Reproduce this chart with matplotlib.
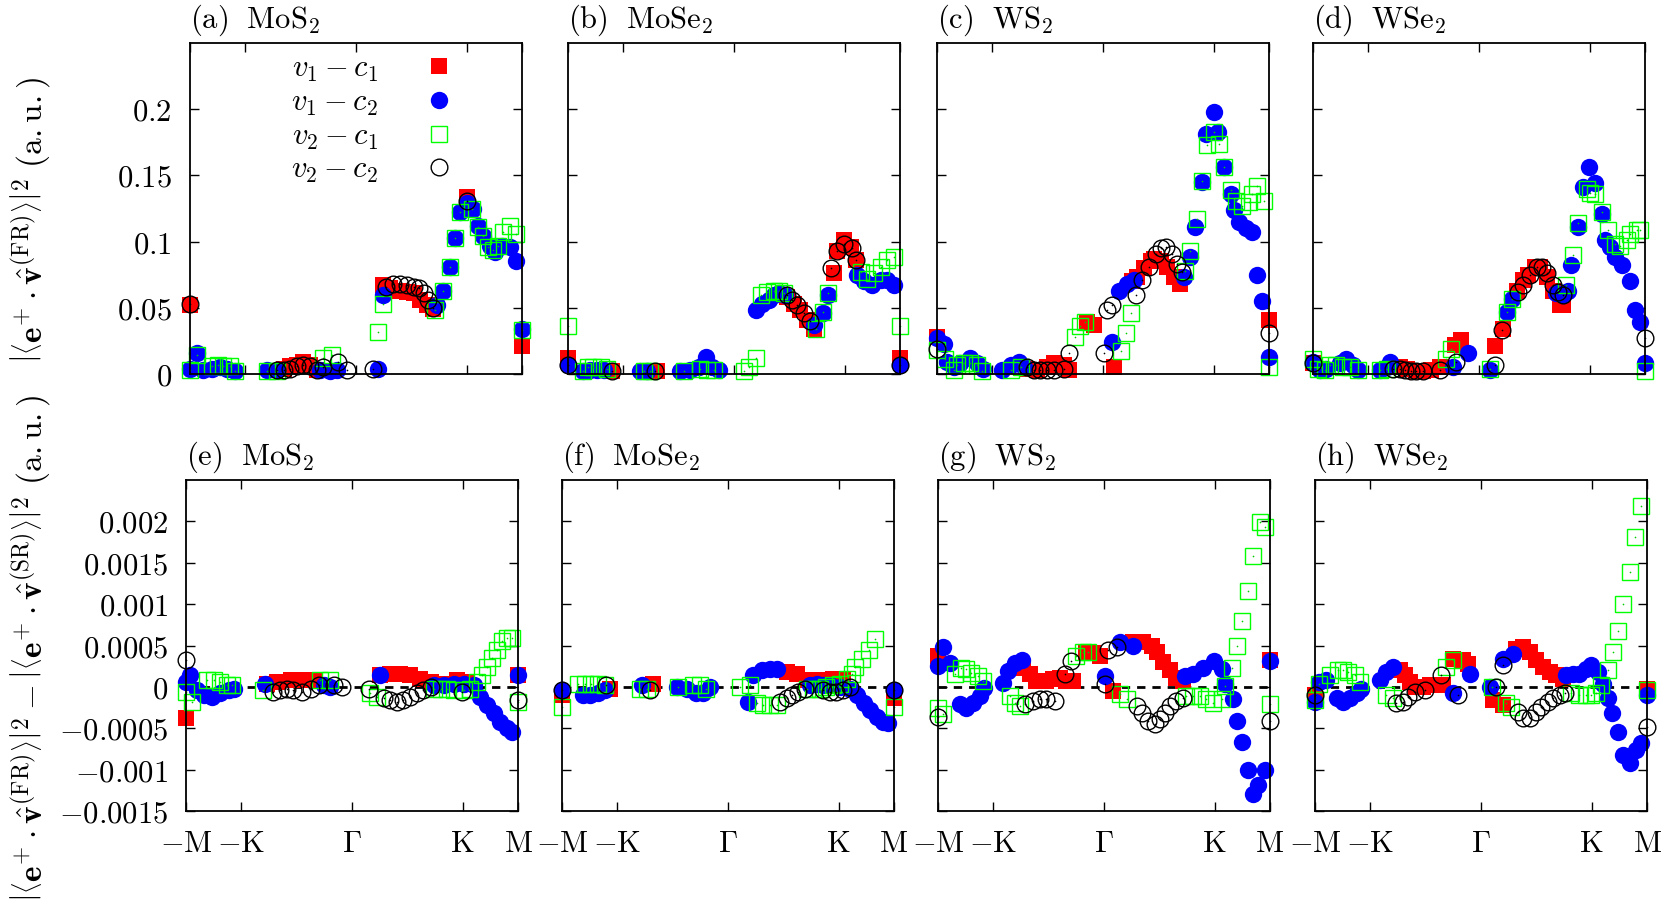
import numpy as np
import matplotlib
matplotlib.use('Agg')
import matplotlib.pyplot as plt

plt.rcParams['mathtext.fontset'] = 'cm'

# x along the k-path: -M=0, -K=1, Gamma=3, K=5, M=6
# ---- |<e+ . v(FR)>|^2 ----
fr_mos2_v1c1 = [(0.00, 0.052), (1.69, 0.004), (1.81, 0.006), (1.93, 0.007), (2.05, 0.009), (2.17, 0.007),
                (2.29, 0.003), (3.49, 0.067), (3.61, 0.065), (3.77, 0.063), (3.92, 0.062), (4.04, 0.061),
                (4.16, 0.056), (4.28, 0.052), (4.40, 0.049), (5.00, 0.134), (6.00, 0.021)]
fr_mos2_v1c2 = [(0.00, 0.004), (0.12, 0.016), (0.24, 0.003), (0.39, 0.004), (0.54, 0.005), (0.66, 0.004),
                (0.81, 0.002), (1.39, 0.003), (1.57, 0.003), (2.35, 0.003), (2.53, 0.002), (2.65, 0.003),
                (3.40, 0.0035), (3.49, 0.060), (4.46, 0.052), (4.58, 0.063), (4.70, 0.081), (4.79, 0.103),
                (4.88, 0.122), (5.00, 0.129), (5.12, 0.125), (5.21, 0.112), (5.30, 0.104), (5.42, 0.097),
                (5.51, 0.092), (5.63, 0.097), (5.78, 0.096), (5.90, 0.085), (6.00, 0.034)]
fr_mos2_v2c1 = [(0.00, 0.003), (0.12, 0.014), (0.39, 0.006), (0.51, 0.007), (0.60, 0.006), (0.72, 0.006),
                (0.81, 0.002), (1.39, 0.002), (1.57, 0.002), (2.41, 0.012), (2.56, 0.014), (3.40, 0.032),
                (3.49, 0.053), (4.43, 0.048), (4.58, 0.063), (4.70, 0.081), (4.79, 0.103), (4.88, 0.122),
                (5.09, 0.125), (5.21, 0.111), (5.30, 0.104), (5.39, 0.096), (5.48, 0.094), (5.57, 0.097),
                (5.66, 0.107), (5.78, 0.112), (5.90, 0.106), (6.00, 0.033)]
fr_mos2_v2c2 = [(0.00, 0.053), (1.57, 0.003), (1.69, 0.003), (1.81, 0.004), (1.93, 0.006), (2.05, 0.007),
                (2.17, 0.006), (2.29, 0.003), (2.41, 0.0055), (2.68, 0.009), (2.83, 0.003), (3.31, 0.004),
                (3.55, 0.066), (3.67, 0.068), (3.80, 0.068), (3.92, 0.067), (4.04, 0.066), (4.13, 0.065),
                (4.22, 0.061), (4.31, 0.056), (4.40, 0.050), (5.00, 0.131)]

fr_mose2_v1c1 = [(0.00, 0.012), (0.80, 0.002), (1.61, 0.002), (3.96, 0.058), (4.08, 0.053), (4.20, 0.048),
                 (4.32, 0.041), (4.45, 0.034), (4.80, 0.076), (4.87, 0.093), (4.99, 0.101), (5.11, 0.096),
                 (5.20, 0.086), (6.00, 0.012)]
fr_mose2_v1c2 = [(0.00, 0.007), (0.28, 0.002), (0.40, 0.003), (0.53, 0.003), (0.65, 0.003), (1.31, 0.002),
                 (1.43, 0.002), (2.03, 0.002), (2.21, 0.003), (2.36, 0.0055), (2.49, 0.013), (2.61, 0.0055),
                 (2.73, 0.003), (3.39, 0.048), (3.51, 0.053), (3.63, 0.056), (3.72, 0.060), (3.81, 0.061),
                 (3.93, 0.060), (4.45, 0.037), (4.60, 0.046), (4.69, 0.060), (5.23, 0.075), (5.35, 0.070),
                 (5.50, 0.067), (5.65, 0.071), (5.77, 0.071), (5.89, 0.067), (6.00, 0.007)]
fr_mose2_v2c1 = [(0.00, 0.036), (0.28, 0.002), (0.37, 0.0055), (0.46, 0.0055), (0.59, 0.0055), (0.71, 0.004),
                 (1.37, 0.002), (1.49, 0.002), (2.09, 0.002), (2.39, 0.004), (2.52, 0.003), (2.64, 0.003),
                 (3.18, 0.002), (3.27, 0.0055), (3.39, 0.012), (3.48, 0.060), (3.60, 0.062), (3.72, 0.063),
                 (3.81, 0.063), (3.90, 0.061), (4.48, 0.034), (4.60, 0.047), (4.69, 0.061), (5.29, 0.077),
                 (5.41, 0.072), (5.53, 0.076), (5.65, 0.081), (5.77, 0.086), (5.89, 0.088), (6.00, 0.036)]
fr_mose2_v2c2 = [(0.00, 0.007), (0.80, 0.002), (1.58, 0.002), (3.96, 0.060), (4.05, 0.056), (4.14, 0.052),
                 (4.26, 0.046), (4.38, 0.040), (4.75, 0.080), (4.87, 0.093), (4.99, 0.098), (5.14, 0.095),
                 (5.20, 0.086), (6.00, 0.007)]

fr_ws2_v1c1 = [(0.00, 0.028), (1.63, 0.004), (1.81, 0.003), (1.99, 0.0055), (2.11, 0.008), (2.29, 0.007),
               (2.38, 0.003), (2.71, 0.039), (2.83, 0.037), (3.20, 0.0055), (3.53, 0.070), (3.62, 0.073),
               (3.74, 0.080), (3.86, 0.085), (3.92, 0.087), (4.04, 0.085), (4.16, 0.081), (4.28, 0.073),
               (4.40, 0.068), (6.00, 0.041)]
fr_ws2_v1c2 = [(0.00, 0.027), (0.12, 0.023), (0.18, 0.009), (0.30, 0.0055), (0.42, 0.008), (0.60, 0.012),
               (0.72, 0.008), (0.84, 0.004), (1.18, 0.003), (1.33, 0.007), (1.48, 0.009), (1.57, 0.0055),
               (3.17, 0.024), (3.29, 0.063), (3.44, 0.068), (3.56, 0.071), (4.46, 0.073), (4.58, 0.088),
               (4.67, 0.111), (4.79, 0.145), (4.86, 0.181), (5.00, 0.198), (5.07, 0.183), (5.19, 0.156),
               (5.31, 0.136), (5.37, 0.124), (5.46, 0.115), (5.58, 0.110), (5.70, 0.107), (5.79, 0.075),
               (5.88, 0.055), (6.00, 0.013)]
fr_ws2_v2c1 = [(0.00, 0.018), (0.15, 0.011), (0.30, 0.003), (0.36, 0.0065), (0.48, 0.008), (0.60, 0.008),
               (0.72, 0.0065), (0.81, 0.002), (1.33, 0.003), (1.51, 0.0055), (2.50, 0.028), (2.59, 0.036),
               (2.68, 0.039), (3.32, 0.017), (3.41, 0.031), (3.50, 0.046), (4.49, 0.078), (4.58, 0.093),
               (4.70, 0.117), (4.79, 0.146), (4.88, 0.173), (5.00, 0.183), (5.09, 0.174), (5.19, 0.156),
               (5.31, 0.139), (5.40, 0.131), (5.52, 0.127), (5.64, 0.130), (5.70, 0.136), (5.79, 0.142),
               (5.91, 0.131), (6.00, 0.0055)]
fr_ws2_v2c2 = [(0.00, 0.019), (1.63, 0.0055), (1.75, 0.003), (1.87, 0.003), (1.99, 0.003), (2.11, 0.003),
               (2.29, 0.004), (2.38, 0.016), (3.02, 0.016), (3.08, 0.048), (3.17, 0.052), (3.59, 0.060),
               (3.71, 0.071), (3.83, 0.081), (3.95, 0.091), (4.04, 0.095), (4.13, 0.096), (4.25, 0.091),
               (4.34, 0.083), (4.43, 0.077), (6.00, 0.031)]

fr_wse2_v1c1 = [(0.00, 0.008), (1.57, 0.0055), (1.69, 0.004), (1.87, 0.002), (1.99, 0.002), (2.14, 0.003),
                (2.29, 0.0055), (2.56, 0.022), (2.68, 0.026), (3.29, 0.021), (3.44, 0.034), (3.68, 0.063),
                (3.80, 0.071), (3.89, 0.075), (4.01, 0.081), (4.10, 0.081), (4.22, 0.073), (4.34, 0.063),
                (4.46, 0.052), (4.52, 0.052)]
fr_wse2_v1c2 = [(0.00, 0.009), (0.12, 0.003), (0.24, 0.004), (0.48, 0.008), (0.60, 0.011), (0.72, 0.007),
                (0.81, 0.003), (1.21, 0.003), (1.33, 0.0055), (1.39, 0.009), (2.53, 0.0055), (2.80, 0.016),
                (3.20, 0.003), (3.50, 0.047), (3.59, 0.057), (4.40, 0.061), (4.52, 0.060), (4.61, 0.063),
                (4.67, 0.082), (4.79, 0.111), (4.88, 0.141), (4.99, 0.156), (5.09, 0.144), (5.22, 0.121),
                (5.28, 0.101), (5.37, 0.096), (5.46, 0.088), (5.58, 0.082), (5.73, 0.070), (5.82, 0.048),
                (5.91, 0.039), (6.00, 0.008)]
fr_wse2_v2c1 = [(0.00, 0.011), (0.09, 0.004), (0.21, 0.003), (0.30, 0.0065), (0.42, 0.0065), (0.54, 0.0055),
                (0.66, 0.0055), (0.81, 0.003), (1.21, 0.003), (1.33, 0.004), (2.41, 0.011), (2.50, 0.019),
                (3.20, 0.004), (3.50, 0.047), (3.59, 0.057), (4.58, 0.067), (4.70, 0.090), (4.79, 0.114),
                (4.95, 0.140), (5.01, 0.137), (5.10, 0.136), (5.22, 0.122), (5.34, 0.109), (5.46, 0.098),
                (5.55, 0.097), (5.67, 0.101), (5.73, 0.106), (5.85, 0.109), (5.91, 0.109), (6.00, 0.002)]
fr_wse2_v2c2 = [(0.00, 0.008), (1.45, 0.004), (1.57, 0.004), (1.66, 0.003), (1.78, 0.002), (1.87, 0.002),
                (1.99, 0.002), (2.29, 0.003), (2.59, 0.009), (3.29, 0.007), (3.41, 0.033), (3.71, 0.062),
                (3.80, 0.067), (3.92, 0.075), (4.04, 0.081), (4.13, 0.081), (4.22, 0.076), (4.34, 0.067),
                (4.43, 0.062), (4.52, 0.060), (6.00, 0.027)]

# ---- |<e+ . v(FR)>|^2 - |<e+ . v(SR)>|^2 ----
df_mos2_v1c1 = [(0.00, -0.00038), (1.46, 0.00004), (1.64, 0.00006), (1.89, 0.00008), (2.13, 0.00008),
                (2.31, 0.00008), (3.51, 0.00014), (3.69, 0.00016), (3.87, 0.00016), (4.05, 0.00014),
                (4.23, 0.00010), (4.42, 0.00006), (4.60, 0.00004), (4.90, 0.00008), (5.08, 0.00006),
                (6.00, 0.00014)]
df_mos2_v1c2 = [(0.00, 0.00006), (0.08, 0.00014), (0.20, -0.00004), (0.32, -0.00010), (0.47, -0.00012),
                (0.62, -0.00008), (0.77, -0.00004), (0.86, -0.00002), (1.43, 0.00004), (2.49, 0.00002),
                (2.61, 0.0), (3.51, 0.00014), (4.48, 0.00002), (4.66, 0.00002), (4.84, 0.00004),
                (5.02, 0.00004), (5.20, 0.00002), (5.32, -0.00012), (5.44, -0.00022), (5.56, -0.00032),
                (5.68, -0.00042), (5.80, -0.00050), (5.89, -0.00054), (6.00, 0.00014)]
df_mos2_v2c1 = [(0.00, -0.00006), (0.11, -0.00018), (0.38, 0.00008), (0.50, 0.00008), (0.62, 0.00006),
                (0.74, 0.00002), (0.83, 0.00002), (1.40, -0.00004), (2.43, 0.00008), (2.61, 0.00008),
                (3.33, -0.00008), (3.45, -0.00012), (4.48, -0.00002), (4.60, -0.00002), (4.72, -0.00002),
                (4.84, -0.00004), (5.02, -0.00004), (5.14, -0.00002), (5.26, 0.00006), (5.35, 0.00014),
                (5.44, 0.00024), (5.53, 0.00035), (5.62, 0.00045), (5.71, 0.00055), (5.80, 0.00059),
                (5.89, 0.00059), (6.00, -0.00018)]
df_mos2_v2c2 = [(0.00, 0.00033), (1.58, -0.00006), (1.70, -0.00004), (1.82, -0.00002), (1.94, -0.00004),
                (2.10, -0.00006), (2.25, -0.00002), (2.40, 0.00002), (2.67, 0.00002), (2.82, 0.0),
                (3.30, -0.00002), (3.57, -0.00014), (3.69, -0.00016), (3.81, -0.00018), (3.93, -0.00016),
                (4.05, -0.00012), (4.17, -0.00008), (4.29, -0.00004), (4.42, 0.0), (4.99, -0.00006),
                (6.00, -0.00016)]

df_mose2_v1c1 = [(0.00, -0.00010), (0.86, -0.00002), (1.65, 0.00004), (4.06, 0.00018), (4.24, 0.00016),
                 (4.42, 0.00008), (4.72, 0.00008), (4.90, 0.00010), (5.08, 0.00008), (6.00, -0.00014)]
df_mose2_v1c2 = [(0.00, -0.00004), (0.38, -0.00010), (0.50, -0.00010), (0.65, -0.00008), (0.77, -0.00004),
                 (1.44, 0.00002), (2.07, 0.0), (2.25, -0.00002), (2.43, -0.00008), (2.55, -0.00008),
                 (2.67, 0.0), (3.37, -0.00018), (3.46, 0.00014), (3.61, 0.00020), (3.76, 0.00022),
                 (3.88, 0.00022), (4.48, 0.00002), (4.60, 0.00004), (4.72, 0.00002), (4.84, 0.00002),
                 (5.02, 0.0), (5.20, -0.00002), (5.33, -0.00010), (5.45, -0.00020), (5.57, -0.00028),
                 (5.69, -0.00036), (5.81, -0.00042), (5.90, -0.00044), (6.00, -0.00004)]
df_mose2_v2c1 = [(0.00, -0.00024), (0.29, 0.00004), (0.41, 0.00004), (0.53, 0.00004), (0.65, 0.00004),
                 (0.77, 0.00002), (1.41, -0.00002), (1.53, -0.00002), (2.10, 0.0), (2.37, 0.00002),
                 (2.49, 0.00002), (2.61, -0.00002), (3.21, 0.0), (3.40, 0.00002), (3.52, -0.00020),
                 (3.64, -0.00022), (3.76, -0.00022), (3.88, -0.00022), (4.42, -0.00002), (4.54, -0.00002),
                 (4.66, -0.00002), (4.78, 0.0), (4.90, 0.00002), (5.02, 0.00004), (5.15, 0.00010),
                 (5.24, 0.00016), (5.30, 0.00024), (5.42, 0.00034), (5.54, 0.00044), (5.66, 0.00058),
                 (6.00, -0.00024)]
df_mose2_v2c2 = [(0.00, -0.00004), (0.80, 0.00002), (1.59, -0.00004), (3.94, -0.00018), (4.06, -0.00014),
                 (4.15, -0.00010), (4.27, -0.00006), (4.39, -0.00002), (4.72, -0.00004), (4.84, -0.00006),
                 (4.96, -0.00006), (5.08, -0.00004), (5.20, 0.0), (6.00, -0.00004)]

df_ws2_v1c1 = [(0.00, 0.00037), (1.54, 0.00023), (1.66, 0.00015), (1.78, 0.00007), (1.96, 0.00007),
               (2.08, 0.00009), (2.20, 0.00011), (2.32, 0.00007), (2.44, 0.00007), (2.68, 0.00041),
               (2.80, 0.00041), (2.92, 0.00037), (3.17, -0.00005), (3.53, 0.00054), (3.71, 0.00054),
               (3.86, 0.00050), (3.95, 0.00042), (4.07, 0.00030), (4.19, 0.00020), (4.31, 0.00011),
               (4.43, 0.00007), (6.00, 0.00033)]
df_ws2_v1c2 = [(0.00, 0.00025), (0.09, 0.00048), (0.21, 0.00029), (0.39, -0.00021), (0.51, -0.00025),
               (0.63, -0.00019), (0.75, -0.00011), (0.84, -0.00001), (1.18, 0.00005), (1.27, 0.00019),
               (1.39, 0.00029), (1.51, 0.00033), (3.02, 0.00013), (3.29, 0.00054), (3.53, 0.00050),
               (4.46, 0.00013), (4.61, 0.00015), (4.79, 0.00023), (4.98, 0.00031), (5.13, 0.00021),
               (5.19, 0.00003), (5.34, -0.00015), (5.40, -0.00041), (5.49, -0.00067), (5.61, -0.00100),
               (5.70, -0.00130), (5.79, -0.00118), (5.91, -0.00100), (6.00, 0.00031)]
df_ws2_v2c1 = [(0.00, -0.00025), (0.09, -0.00033), (0.30, 0.00015), (0.42, 0.00023), (0.51, 0.00021),
               (0.60, 0.00017), (0.72, 0.00013), (0.81, 0.00007), (1.30, -0.00011), (1.39, -0.00019),
               (1.48, -0.00023), (2.50, 0.00037), (2.62, 0.00042), (2.71, 0.00042), (3.29, -0.00009),
               (3.41, -0.00015), (4.49, -0.00011), (4.61, -0.00011), (4.73, -0.00011), (4.85, -0.00015),
               (4.97, -0.00019), (5.13, -0.00015), (5.19, 0.00001), (5.31, 0.00023), (5.40, 0.00050),
               (5.49, 0.00080), (5.61, 0.00116), (5.70, 0.00158), (5.82, 0.00199), (5.91, 0.00193),
               (6.00, -0.00021)]
df_ws2_v2c2 = [(0.00, -0.00037), (1.57, -0.00021), (1.72, -0.00017), (1.84, -0.00015), (1.96, -0.00015),
               (2.11, -0.00017), (2.29, 0.00015), (2.41, 0.00031), (3.02, 0.00003), (3.08, 0.00044),
               (3.23, 0.00048), (3.59, -0.00023), (3.68, -0.00031), (3.80, -0.00041), (3.92, -0.00045),
               (4.01, -0.00039), (4.10, -0.00031), (4.19, -0.00023), (4.31, -0.00017), (4.43, -0.00013),
               (6.00, -0.00041)]

df_wse2_v1c1 = [(0.00, -0.00010), (1.53, 0.00020), (1.62, 0.00014), (1.71, 0.00006), (1.83, 0.0),
                (1.95, 0.0), (2.07, 0.00002), (2.19, 0.00002), (2.31, 0.00002), (2.49, 0.00034),
                (2.67, 0.00032), (2.77, 0.00028), (3.22, -0.00016), (3.40, -0.00022), (3.64, 0.00046),
                (3.76, 0.00048), (3.88, 0.00042), (4.00, 0.00032), (4.12, 0.00024), (4.24, 0.00018),
                (4.36, 0.00014), (4.48, 0.00010), (6.00, -0.00002)]
df_wse2_v1c2 = [(0.00, -0.00018), (0.08, 0.00006), (0.20, 0.00008), (0.39, -0.00014), (0.51, -0.00018),
                (0.63, -0.00014), (0.75, -0.00008), (0.84, -0.00002), (1.17, 0.00008), (1.29, 0.00018),
                (1.41, 0.00024), (2.49, -0.00008), (2.80, 0.00016), (3.16, 0.0), (3.40, 0.00034),
                (3.58, 0.00040), (4.54, 0.00014), (4.66, 0.00016), (4.78, 0.00016), (4.90, 0.00022),
                (4.99, 0.00026), (5.11, 0.00018), (5.20, 0.00004), (5.30, -0.00014), (5.36, -0.00032),
                (5.48, -0.00054), (5.57, -0.00082), (5.69, -0.00092), (5.81, -0.00076), (5.90, -0.00068),
                (6.00, -0.00010)]
df_wse2_v2c1 = [(0.00, -0.00016), (0.08, 0.00004), (0.27, 0.00014), (0.42, 0.00020), (0.51, 0.00020),
                (0.60, 0.00018), (0.72, 0.00014), (0.81, 0.00006), (1.29, -0.00010), (1.41, -0.00014),
                (2.37, 0.00024), (2.49, 0.00032), (3.19, 0.0), (3.46, -0.00020), (3.55, -0.00024),
                (4.63, -0.00008), (4.78, -0.00010), (4.90, -0.00010), (4.99, -0.00010), (5.08, -0.00008),
                (5.17, 0.00002), (5.30, 0.00020), (5.39, 0.00042), (5.48, 0.00068), (5.57, 0.00100),
                (5.69, 0.00139), (5.78, 0.00181), (5.90, 0.00219), (6.00, -0.00004)]
df_wse2_v2c2 = [(0.00, -0.00010), (1.47, -0.00020), (1.59, -0.00018), (1.68, -0.00012), (1.80, -0.00006),
                (1.99, -0.00004), (2.28, 0.00014), (2.58, -0.00010), (3.28, 0.0), (3.40, 0.00026),
                (3.67, -0.00030), (3.76, -0.00038), (3.88, -0.00038), (4.00, -0.00030), (4.09, -0.00024),
                (4.21, -0.00018), (4.30, -0.00014), (4.42, -0.00010), (4.51, -0.00008), (6.00, -0.00048)]

materials = ['MoS_2', 'MoSe_2', 'WS_2', 'WSe_2']
letters_top = ['(a)', '(b)', '(c)', '(d)']
letters_bot = ['(e)', '(f)', '(g)', '(h)']
series_labels = [r'$v_1 - c_1$', r'$v_1 - c_2$', r'$v_2 - c_1$', r'$v_2 - c_2$']

kpath_ticks = [0, 1, 3, 5, 6]
kpath_labels = [r'$-\mathrm{M}$', r'$-\mathrm{K}$', r'$\Gamma$', r'$\mathrm{K}$', r'$\mathrm{M}$']
fr_yticks = [0, 0.05, 0.1, 0.15, 0.2]
fr_ylabels = ['$0$', '$0.05$', '$0.1$', '$0.15$', '$0.2$']
df_yticks = [-0.0015, -0.001, -0.0005, 0, 0.0005, 0.001, 0.0015, 0.002]
df_ylabels = ['$-0.0015$', '$-0.001$', '$-0.0005$', '$0$', '$0.0005$', '$0.001$', '$0.0015$', '$0.002$']

fr_data = [
    [fr_mos2_v1c1, fr_mos2_v1c2, fr_mos2_v2c1, fr_mos2_v2c2],
    [fr_mose2_v1c1, fr_mose2_v1c2, fr_mose2_v2c1, fr_mose2_v2c2],
    [fr_ws2_v1c1, fr_ws2_v1c2, fr_ws2_v2c1, fr_ws2_v2c2],
    [fr_wse2_v1c1, fr_wse2_v1c2, fr_wse2_v2c1, fr_wse2_v2c2],
]
df_data = [
    [df_mos2_v1c1, df_mos2_v1c2, df_mos2_v2c1, df_mos2_v2c2],
    [df_mose2_v1c1, df_mose2_v1c2, df_mose2_v2c1, df_mose2_v2c2],
    [df_ws2_v1c1, df_ws2_v1c2, df_ws2_v2c1, df_ws2_v2c2],
    [df_wse2_v1c1, df_wse2_v1c2, df_wse2_v2c1, df_wse2_v2c2],
]

styles = [
    dict(marker='s', ms=12, mfc='#ff0000', mec='#ff0000', mew=0),
    dict(marker='o', ms=12.5, mfc='#0000ff', mec='#0000ff', mew=0),
    dict(marker='s', ms=11.5, mfc='none', mec='#00ff00', mew=1.0),
    dict(marker='o', ms=12, mfc='none', mec='black', mew=1.0),
]
# gnuplot leaves a tiny dot in the middle of the open symbols
center_dot = [None, None, '#00cc00', 'black']

W, H = 1661, 900
FS = 22
top_lefts = [190, 568, 937, 1313]
bot_lefts = [186, 562, 938, 1315]

fig = plt.figure(figsize=(W / 100, H / 100), dpi=100)


def add_ax(left, top, w=332, h=331):
    return fig.add_axes([left / W, 1 - (top + h) / H, w / W, h / H])


def panel(ax, series, ylim, yticks, ylabels, title, first_col, bottom_row):
    for pts, st, lab, dot in zip(series, styles, series_labels, center_dot):
        arr = np.array(pts)
        ax.plot(arr[:, 0], arr[:, 1], ls='none', clip_on=False, label=lab, **st)
        if dot:
            ax.plot(arr[:, 0], arr[:, 1], ls='none', marker='o', ms=1.2, mew=0, mfc=dot, clip_on=False)
    ax.set_xlim(0, 6)
    ax.set_ylim(*ylim)
    ax.set_xticks(kpath_ticks)
    ax.set_xticklabels(kpath_labels)
    ax.set_yticks(yticks)
    ax.set_yticklabels(ylabels)
    ax.tick_params(direction='in', length=6.5, width=1, top=True, right=True,
                   labelsize=FS, pad=13, labelbottom=bottom_row, labelleft=first_col)
    for sp in ax.spines.values():
        sp.set_linewidth(1.3)
    ax.set_title(title, loc='left', fontsize=FS, pad=11)


for i in range(4):
    ax = add_ax(top_lefts[i], 43)
    panel(ax, fr_data[i], (0, 0.25), fr_yticks, fr_ylabels,
          r'$\mathrm{%s\ \ %s}$' % (letters_top[i], materials[i]), i == 0, False)
    if i == 0:
        handles, labels = ax.get_legend_handles_labels()
        ax.legend(handles[:4], labels[:4], loc='upper right', bbox_to_anchor=(0.843, 0.968),
                  frameon=False, markerfirst=False, handlelength=2.0, handletextpad=1.0,
                  labelspacing=0.12, borderpad=0, borderaxespad=0, fontsize=FS, numpoints=1)

    ax = add_ax(bot_lefts[i], 480)
    ax.axhline(0, color='black', ls=(0, (3, 2.5)), lw=2, zorder=1)
    panel(ax, df_data[i], (-0.0015, 0.0025), df_yticks, df_ylabels,
          r'$\mathrm{%s\ \ %s}$' % (letters_bot[i], materials[i]), i == 0, True)

fig.text(30 / W, 1 - 220 / H,
         r'$\left|\left\langle \mathbf{e}^{+} \cdot \hat{\mathbf{v}}^{(\mathrm{FR})} \right\rangle\right|^{2}\ (\mathrm{a{.}u{.}})$',
         rotation=90, ha='center', va='center', fontsize=24)
fig.text(30 / W, 1 - 648 / H,
         r'$\left|\left\langle \mathbf{e}^{+} \cdot \hat{\mathbf{v}}^{(\mathrm{FR})} \right\rangle\right|^{2}'
         r' - \left|\left\langle \mathbf{e}^{+} \cdot \hat{\mathbf{v}}^{(\mathrm{SR})} \right\rangle\right|^{2}\ (\mathrm{a{.}u{.}})$',
         rotation=90, ha='center', va='center', fontsize=24)

fig.savefig('out.png', dpi=100)
